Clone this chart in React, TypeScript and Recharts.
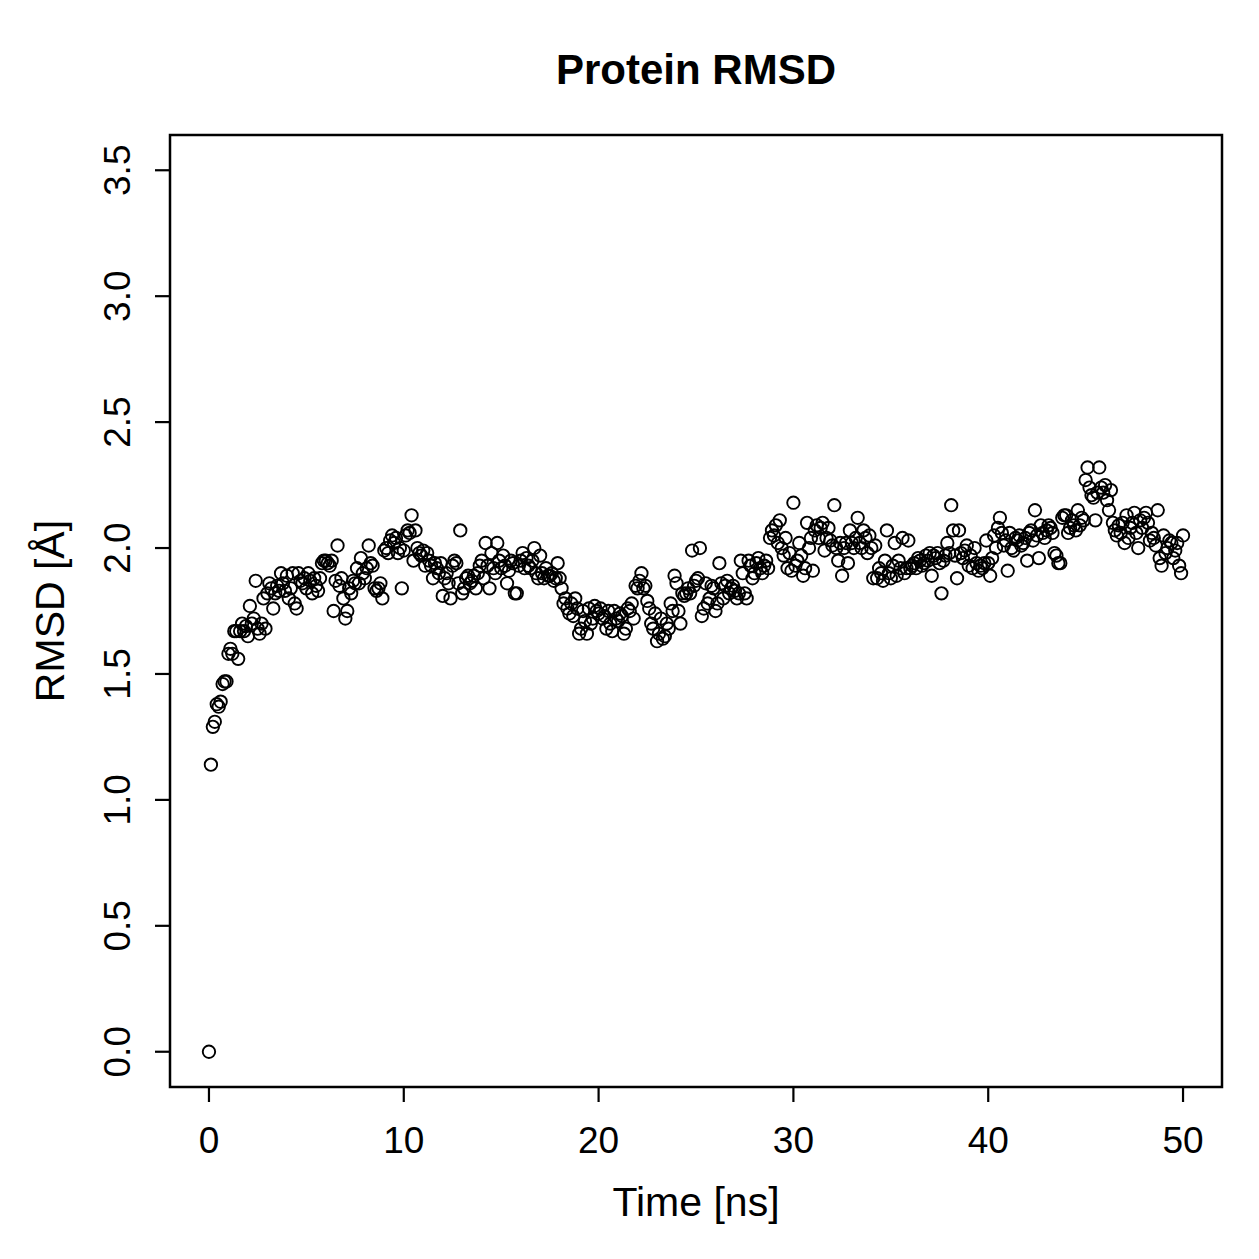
import React from 'react';
import { ScatterChart, Scatter, XAxis, YAxis, ReferenceArea } from 'recharts';

// RMSD trace, one frame every 0.1 ns (rows are 1 ns each)
const rmsd: number[] = [
  0.0, 1.14, 1.29, 1.31, 1.38, 1.37, 1.39, 1.46, 1.47, 1.47,
  1.58, 1.6, 1.58, 1.67, 1.67, 1.56, 1.67, 1.7, 1.67, 1.69,
  1.65, 1.77, 1.7, 1.72, 1.87, 1.68, 1.66, 1.7, 1.8, 1.68,
  1.82, 1.86, 1.84, 1.76, 1.82, 1.85, 1.83, 1.9, 1.86, 1.83,
  1.89, 1.8, 1.84, 1.9, 1.78, 1.76, 1.9, 1.87, 1.86, 1.88,
  1.84, 1.9, 1.87, 1.82, 1.88, 1.85, 1.83, 1.88, 1.94, 1.95,
  1.95, 1.94, 1.93, 1.95, 1.75, 1.87, 2.01, 1.85, 1.88, 1.8,
  1.72, 1.75, 1.84, 1.82, 1.87, 1.86, 1.92, 1.86, 1.96, 1.9,
  1.88, 1.92, 2.01, 1.94, 1.93, 1.84, 1.83, 1.84, 1.86, 1.8,
  1.99, 2.0, 1.98, 2.03, 2.05, 2.02, 2.04, 1.98, 2.0, 1.84,
  1.99, 2.05, 2.07, 2.06, 2.13, 1.95, 2.07, 2.0, 1.98, 1.97,
  1.99, 1.93, 1.98, 1.95, 1.93, 1.88, 1.94, 1.92, 1.9, 1.94,
  1.81, 1.88, 1.9, 1.86, 1.8, 1.93, 1.95, 1.94, 1.86, 2.07,
  1.82, 1.84, 1.88, 1.89, 1.86, 1.87, 1.89, 1.84, 1.9, 1.93,
  1.95, 1.88, 2.02, 1.93, 1.84, 1.98, 1.92, 1.9, 2.02, 1.95,
  1.92, 1.97, 1.93, 1.86, 1.91, 1.95, 1.94, 1.82, 1.82, 1.93,
  1.95, 1.98, 1.92, 1.96, 1.93, 1.92, 1.95, 2.0, 1.9, 1.88,
  1.97, 1.9, 1.88, 1.92, 1.89, 1.89, 1.9, 1.87, 1.88, 1.94,
  1.88, 1.84, 1.78, 1.8, 1.76, 1.74, 1.78, 1.73, 1.8, 1.76,
  1.66, 1.68, 1.75, 1.71, 1.66, 1.76, 1.7, 1.72, 1.77, 1.75,
  1.74, 1.76, 1.72, 1.73, 1.68, 1.75, 1.7, 1.67, 1.75, 1.72,
  1.71, 1.74, 1.73, 1.66, 1.68, 1.76, 1.75, 1.78, 1.72, 1.85,
  1.84, 1.87, 1.9, 1.84, 1.85, 1.79, 1.76, 1.7, 1.68, 1.74,
  1.63, 1.66, 1.72, 1.64, 1.65, 1.7, 1.68, 1.78, 1.75, 1.89,
  1.86, 1.75, 1.7, 1.82, 1.81, 1.82, 1.84, 1.82, 1.99, 1.85,
  1.87, 1.88, 2.0, 1.73, 1.76, 1.86, 1.78, 1.8, 1.85, 1.84,
  1.75, 1.78, 1.94, 1.86, 1.8, 1.85, 1.87, 1.82, 1.84, 1.85,
  1.83, 1.8, 1.82, 1.95, 1.9, 1.82, 1.8, 1.95, 1.93, 1.88,
  1.9, 1.94, 1.96, 1.92, 1.9, 1.93, 1.95, 1.92, 2.04, 2.07,
  2.05, 2.09, 2.02, 2.11, 2.0, 1.97, 2.04, 1.92, 1.98, 1.91,
  2.18, 1.93, 1.95, 2.02, 1.97, 1.89, 1.92, 2.1, 2.0, 2.04,
  1.91, 2.07, 2.09, 2.04, 2.08, 2.1, 1.99, 2.04, 2.08, 2.03,
  2.01, 2.17, 2.0, 1.95, 2.02, 1.89, 2.0, 2.02, 1.94, 2.07,
  2.02, 2.0, 2.04, 2.12, 2.02, 2.0, 2.07, 2.04, 1.98, 2.05,
  2.0, 1.88, 2.01, 1.88, 1.92, 1.9, 1.87, 1.95, 2.07, 1.9,
  1.88, 1.93, 2.02, 1.89, 1.95, 1.92, 2.04, 1.9, 1.92, 2.03,
  1.92, 1.93, 1.94, 1.92, 1.96, 1.95, 1.93, 1.94, 1.97, 1.95,
  1.98, 1.89, 1.97, 1.96, 1.98, 1.94, 1.82, 1.95, 1.97, 2.02,
  1.98, 2.17, 2.07, 1.97, 1.88, 2.07, 1.98, 1.96, 1.99, 2.01,
  1.93, 1.97, 1.92, 2.0, 1.94, 1.91, 1.93, 1.92, 1.94, 2.03,
  1.94, 1.89, 1.96, 2.05, 2.0, 2.08, 2.12, 2.06, 2.01, 2.03,
  1.91, 2.06, 2.0, 1.99, 2.04, 2.03, 2.05, 2.01, 2.02, 2.04,
  1.95, 2.06, 2.07, 2.03, 2.15, 2.05, 1.96, 2.09, 2.06, 2.04,
  2.07, 2.09, 2.08, 2.06, 1.98, 1.97, 1.94, 1.94, 2.12, 2.13,
  2.13, 2.06, 2.08, 2.11, 2.09, 2.07, 2.15, 2.09, 2.12, 2.11,
  2.27, 2.32, 2.24, 2.21, 2.2, 2.11, 2.22, 2.32, 2.24, 2.22,
  2.25, 2.19, 2.15, 2.23, 2.1, 2.07, 2.05, 2.09, 2.06, 2.1,
  2.02, 2.13, 2.04, 2.08, 2.1, 2.14, 2.06, 2.0, 2.11, 2.08,
  2.12, 2.14, 2.1, 2.03, 2.06, 2.04, 2.01, 2.15, 1.96, 1.93,
  2.05, 1.98, 2.0, 2.03, 2.02, 1.96, 1.99, 2.02, 1.93, 1.9,
  2.05,
];

const timeStep = 0.1; // ns per frame
const xTicks = [0, 10, 20, 30, 40, 50];
const yTicks = [0, 0.5, 1, 1.5, 2, 2.5, 3, 3.5];

const points = rmsd.map((v, i) => ({ time: +(i * timeStep).toFixed(1), rmsd: v }));

const FONT = '"Liberation Sans", Arial, Helvetica, sans-serif';
const TICK_FONT = 37;
const LABEL_FONT = 41;

const XTick = (props: any) => {
  const { x, y, payload } = props;
  return (
    <text x={x} y={y} dy={51} textAnchor="middle" fontSize={TICK_FONT} fontFamily={FONT} fill="#000">
      {payload.value}
    </text>
  );
};

const YTick = (props: any) => {
  const { x, y, payload } = props;
  const label = Number(payload.value).toFixed(1);
  return (
    <text
      x={x}
      y={y}
      transform={`rotate(-90 ${x} ${y})`}
      textAnchor="middle"
      fontSize={TICK_FONT}
      fontFamily={FONT}
      fill="#000"
    >
      {label}
    </text>
  );
};

const Ring = (props: any) => (
  <circle cx={props.cx} cy={props.cy} r={6.2} fill="none" stroke="#000" strokeWidth={1.9} />
);

export default function App() {
  return (
    <div style={{ position: 'absolute', left: 0, top: 0, width: 1259, height: 1259, background: '#fff' }}>
      <ScatterChart
        width={1259}
        height={1259}
        margin={{ top: 135, right: 37, bottom: 112, left: 90 }}
      >
        <XAxis
          type="number"
          dataKey="time"
          domain={[-2, 52]}
          ticks={xTicks}
          height={60}
          axisLine={false}
          tickLine={{ stroke: '#000', strokeWidth: 2.2 }}
          tickSize={15}
          tickMargin={0}
          tick={<XTick />}
          allowDataOverflow
        />
        <YAxis
          type="number"
          dataKey="rmsd"
          domain={[-0.14, 3.64]}
          ticks={yTicks}
          width={80}
          axisLine={false}
          tickLine={{ stroke: '#000', strokeWidth: 2.2 }}
          tickSize={15}
          tickMargin={25}
          tick={<YTick />}
          allowDataOverflow
        />
        <ReferenceArea
          x1={-2}
          x2={52}
          y1={-0.14}
          y2={3.64}
          fill="none"
          fillOpacity={0}
          stroke="#000"
          strokeWidth={2.5}
          ifOverflow="visible"
        />
        <Scatter data={points} shape={<Ring />} isAnimationActive={false} />
      </ScatterChart>
      <svg
        width={1259}
        height={1259}
        style={{ position: 'absolute', left: 0, top: 0, pointerEvents: 'none' }}
      >
        <text x={696} y={84} textAnchor="middle" fontSize={42} fontWeight="bold" fontFamily={FONT}>
          Protein RMSD
        </text>
        <text x={696} y={1216} textAnchor="middle" fontSize={LABEL_FONT} fontFamily={FONT}>
          Time [ns]
        </text>
        <text
          x={64}
          y={611}
          transform="rotate(-90 64 611)"
          textAnchor="middle"
          fontSize={LABEL_FONT}
          fontFamily={FONT}
        >
          RMSD [Å]
        </text>
      </svg>
    </div>
  );
}
